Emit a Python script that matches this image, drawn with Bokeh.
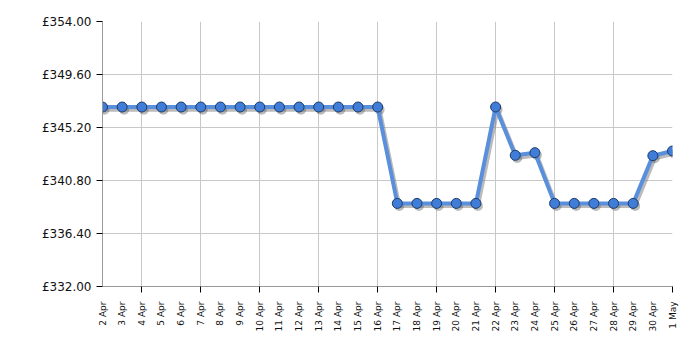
import math
from bokeh.plotting import figure
from bokeh.models import FixedTicker, CustomJSTickFormatter, ColumnDataSource, Range1d
from bokeh.transform import dodge
from bokeh.embed import file_html
from bokeh.resources import INLINE

dates = ["2 Apr", "3 Apr", "4 Apr", "5 Apr", "6 Apr", "7 Apr", "8 Apr", "9 Apr", "10 Apr",
         "11 Apr", "12 Apr", "13 Apr", "14 Apr", "15 Apr", "16 Apr", "17 Apr", "18 Apr",
         "19 Apr", "20 Apr", "21 Apr", "22 Apr", "23 Apr", "24 Apr", "25 Apr", "26 Apr",
         "27 Apr", "28 Apr", "29 Apr", "30 Apr", "1 May"]
prices = [346.9] * 15 + [338.9] * 5 + [346.9, 342.89, 343.11] + [338.9] * 5 + [342.86, 343.25]
y_ticks = [332.0, 336.4, 340.8, 345.2, 349.6, 354.0]

idx = list(range(len(dates)))
src = ColumnDataSource(dict(x=idx, y=prices))

p = figure(width=700, height=350, output_backend="svg", toolbar_location=None,
           x_range=Range1d(0, len(dates) - 1), y_range=Range1d(y_ticks[0], y_ticks[-1]),
           min_border_left=102, min_border_right=28, min_border_top=21, min_border_bottom=64)
p.outline_line_color = None
p.background_fill_color = "white"
p.border_fill_color = "white"

# shadow
p.line(x=dodge("x", 0.1, range=p.x_range), y=dodge("y", -0.22, range=p.y_range), source=src,
       line_color="#777777", line_width=4, line_alpha=0.5)
p.scatter(x=dodge("x", 0.1, range=p.x_range), y=dodge("y", -0.22, range=p.y_range), source=src,
          size=10, fill_color="#555555", fill_alpha=0.4, line_color=None)
p.line(x="x", y="y", source=src, line_color="#5a8fdc", line_width=4)
p.scatter(x="x", y="y", source=src, size=10, fill_color="#3f7dd8", line_color="#1d3a66", line_width=1)

xa = p.xaxis[0]
xa.ticker = FixedTicker(ticks=idx, minor_ticks=idx[2::3])
xa.major_label_overrides = {i: d for i, d in enumerate(dates)}
xa.major_label_orientation = math.pi / 2
xa.major_tick_out = 0
xa.major_tick_in = 0
xa.minor_tick_out = 6
xa.minor_tick_in = 0
xa.minor_tick_line_color = "black"
xa.major_label_standoff = 9
xa.major_label_text_font = "DejaVu Sans"
xa.major_label_text_font_size = "9px"
xa.major_label_text_color = "#111111"
xa.axis_line_color = "#999999"

ya = p.yaxis[0]
ya.ticker = FixedTicker(ticks=y_ticks, minor_ticks=[])
ya.formatter = CustomJSTickFormatter(code="return '\u00a3' + tick.toFixed(2);")
ya.major_tick_out = 6
ya.major_tick_in = 0
ya.major_tick_line_color = "black"
ya.major_label_standoff = 5
ya.major_label_text_font = "DejaVu Sans"
ya.major_label_text_font_size = "12px"
ya.major_label_text_color = "#111111"
ya.axis_line_color = "#999999"

p.xgrid.ticker = FixedTicker(ticks=idx[2::3])
p.xgrid.grid_line_color = "#c8c8c8"
p.ygrid.grid_line_color = "#c8c8c8"

open("out.html", "w").write(file_html(p, INLINE))
